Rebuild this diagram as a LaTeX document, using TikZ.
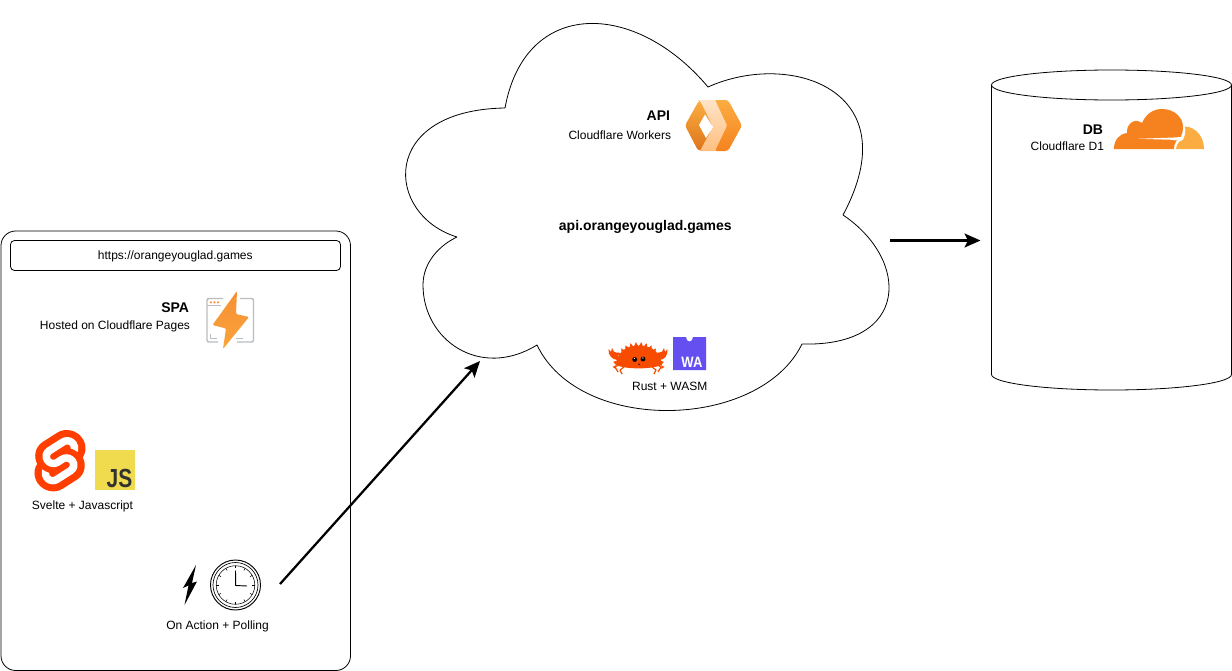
\documentclass[tikz,border=0pt]{standalone}
\usepackage{fontspec}
\setmainfont{Liberation Sans}
\usetikzlibrary{arrows.meta,svg.path}
\definecolor{svelteo}{HTML}{FF3E00}
\definecolor{jsy}{HTML}{F0DB4F}
\definecolor{jsd}{HTML}{323330}
\definecolor{cfd}{HTML}{F6821F}
\definecolor{cfl}{HTML}{FBAD41}
\definecolor{ferris}{HTML}{F74C00}
\definecolor{wasmc}{HTML}{654FF0}
\definecolor{pagesg}{HTML}{B9BDC1}
\tikzset{
  lbl/.style={font=\fontsize{9pt}{11pt}\selectfont,inner sep=0pt,text=black},
  lblb/.style={font=\fontsize{10.5pt}{12pt}\selectfont\bfseries,inner sep=0pt,text=black},
  thin1/.style={draw=black,line width=.6pt},
  flow/.style={draw=black,line width=1.7pt,-{Stealth[length=12pt,width=10.5pt,inset=2.6pt]}},
  tick/.style={draw=black,line width=.4pt},
}
\begin{document}
\begin{tikzpicture}[x=.75pt,y=-.75pt,line join=round]
\useasboundingbox (0,0) rectangle (1232,671);
\fill[white] (0,0) rectangle (1232,671);

% browser window
\draw[thin1,rounded corners=11pt] (1,231) rectangle (350.5,670.5);
\draw[thin1,rounded corners=3pt] (10.5,240.5) rectangle (340.5,270.5);
\node[lbl] (url) at (175.3,256) {https://orangeyouglad.games};
\node[lblb,anchor=east] (spa) at (189.3,308) {SPA};
\node[lbl,anchor=east] (pagesl) at (190.3,326) {Hosted on Cloudflare Pages};

% pages icon
\draw[pagesg,line width=1.1pt,rounded corners=1.5pt] (223,298.5) -- (207,298.5) -- (207,342) -- (218,342);
\draw[pagesg,line width=1.1pt,rounded corners=1.5pt] (240,298.5) -- (253.5,298.5) -- (253.5,342) -- (237,342);
\draw[pagesg,line width=.7pt] (207,305.5) -- (221,305.5);
\draw[pagesg,line width=.7pt] (210,334) -- (210,338.5) -- (217,338.5);
\draw[pagesg,line width=.7pt] (243,338.5) -- (236,338.5);
\fill[cfd!85!white] (211,302.3) circle (1.2) (214.5,302.3) circle (1.2) (218,302.3) circle (1.2);
\shade[top color=cfd!90!white,bottom color=cfl!80!cfd,rounded corners=.8pt] (237,291) -- (212.5,325) -- (226,328.5) -- (223,349) -- (249,317) -- (236,314) -- cycle;

% svelte
\fill[svelteo,shift={(34.5,430)},scale=.39,yscale=-1] svg {M91.8 15.6C80.9-.1 59.2-4.7 43.6 5.2L16.1 22.8C8.6 27.5 3.4 35.2 1.9 43.9c-1.3 7.3-.2 14.8 3.3 21.3-2.4 3.6-4 7.6-4.7 11.8-1.6 8.9.5 18.1 5.7 25.4 11 15.7 32.6 20.3 48.2 10.4l27.5-17.5c7.5-4.7 12.7-12.4 14.2-21.1 1.3-7.3.2-14.8-3.3-21.3 2.4-3.6 4-7.6 4.7-11.8 1.7-9-.4-18.2-5.7-25.5z};
\fill[white,shift={(34.5,430)},scale=.39,yscale=-1] svg {M40.9 103.9c-8.9 2.3-18.2-1.2-23.4-8.7-3.2-4.4-4.4-9.9-3.5-15.3.2-.9.4-1.7.6-2.6l.5-1.6 1.4 1c3.3 2.4 6.9 4.2 10.8 5.4l1 .3-.1 1c-.1 1.4.3 2.9 1.1 4.1 1.6 2.3 4.4 3.4 7.1 2.7.6-.2 1.2-.4 1.7-.7L65.5 72c1.4-.9 2.3-2.2 2.6-3.8.3-1.6-.1-3.3-1-4.6-1.6-2.3-4.4-3.3-7.1-2.6-.6.2-1.2.4-1.7.7l-10.5 6.7c-1.7 1.1-3.6 1.9-5.6 2.4-8.9 2.3-18.2-1.2-23.4-8.7-3.1-4.4-4.4-9.9-3.4-15.3.9-5.2 4.1-9.9 8.6-12.7l27.5-17.5c1.7-1.1 3.6-1.9 5.6-2.5 8.9-2.3 18.2 1.2 23.4 8.7 3.2 4.4 4.4 9.9 3.5 15.3-.2.9-.4 1.7-.7 2.6l-.5 1.6-1.4-1c-3.3-2.4-6.9-4.2-10.8-5.4l-1-.3.1-1c.1-1.4-.3-2.9-1.1-4.1-1.6-2.3-4.4-3.3-7.1-2.6-.6.2-1.2.4-1.7.7L32.4 46.1c-1.4.9-2.3 2.2-2.6 3.8s.1 3.3 1 4.6c1.6 2.3 4.4 3.3 7.1 2.6.6-.2 1.2-.4 1.7-.7l10.5-6.7c1.7-1.1 3.6-1.9 5.6-2.5 8.9-2.3 18.2 1.2 23.4 8.7 3.2 4.4 4.4 9.9 3.5 15.3-.9 5.2-4.1 9.9-8.6 12.7l-27.5 17.5c-1.7 1.1-3.6 1.9-5.6 2.5z};

% js
\fill[jsy] (95,450) rectangle (135,490);
\node[font=\fontsize{15.7pt}{16pt}\selectfont\bfseries,text=jsd,inner sep=0pt,anchor=base east] (js) at (132.5,487) {\scalebox{1}[1.25]{JS}};
\node[lbl] (sveltel) at (82.5,506) {Svelte + Javascript};

% lightning + clock
\fill[black] (196,565) -- (183,588) -- (188.5,585.5) -- (184.5,605) -- (197,581.5) -- (192,583) -- cycle;
\draw[black,line width=.7pt,fill=white] (235.5,585) circle (25);
\draw[black,line width=.5pt] (235.5,585) circle (22.5);
\draw[black,line width=.4pt] (235.5,585) circle (19.3);
\foreach \a in {0,30,...,330}{
  \draw[tick] (235.5,585) ++(\a:19.3) -- ++(\a+180:2.6);
}
\draw[black,line width=.7pt] (235.5,570.5) -- (235.7,585.5) -- (247,586);
\node[lbl] (polling) at (217.5,626) {On Action + Polling};

% cloud
\draw[thin1] (457,237) .. controls (385,215) and (378,110) .. (505,108)
  .. controls (525,-2) and (635,0) .. (708,87)
  .. controls (790,50) and (910,90) .. (843,215)
  .. controls (910,260) and (910,347) .. (802,344)
  .. controls (760,430) and (580,435) .. (537,345)
  .. controls (480,380) and (423,340) .. (423,285)
  .. controls (423,262) and (440,245) .. (457,237) -- cycle;
\node[lblb,anchor=east] (api) at (670.3,116) {API};
\node[lbl,anchor=east] (workers) at (671.3,135) {Cloudflare Workers};
\node[lblb] (domain) at (645.3,227) {api.orangeyouglad.games};
\node[lbl] (rustl) at (669.7,386) {Rust + WASM};

% workers icon
\shade[top color=cfl,bottom color=cfd!90!black,rounded corners=2pt] (699,100.5) -- (685,125.5) -- (698,150.5) -- (703,150.5) -- (713,125) -- (700,100.5) -- cycle;
\shade[top color=cfl,bottom color=cfd,rounded corners=2pt] (714,100) -- (728,100) -- (742,125.5) -- (728,151) -- (714,151) -- (727,125.5) -- cycle;
\shade[top color=orange!22!white,bottom color=orange!50!white,rounded corners=.5pt] (700,100) -- (715,100) -- (727,125.5) -- (715,151) -- (700,151) -- (713,127) -- cycle;
\fill[white] (699,125) -- (705,114.5) -- (713,127) -- (706,138) -- cycle;

% ferris
\foreach \a in {0,12,...,180}{
  \fill[ferris] ({638.5+23*cos(\a-5)},{367-21*sin(\a-5)}) -- ({638.5+26*cos(\a)},{367-25*sin(\a)}) -- ({638.5+23*cos(\a+5)},{367-21*sin(\a+5)}) -- cycle;
}
\fill[ferris] (615.5,365) .. controls (618,349) and (630,345.5) .. (638.5,345.5) .. controls (648,345.5) and (660,349) .. (662,365) .. controls (650,369.5) and (627,369.5) .. (615.5,365) -- cycle;
\fill[ferris] (618,360) .. controls (612,360) and (608,355) .. (608.5,349) -- (611,352) -- (612,348) .. controls (612,351) and (615,353) .. (618,353) -- cycle;
\fill[ferris] (659,360) .. controls (665,360) and (668,355) .. (667.5,349) -- (665,352) -- (664,348) .. controls (664,351) and (661,353) .. (658,353) -- cycle;
\draw[ferris,line width=.9pt] (620,364) -- (615,367) -- (618,372) (624,367) -- (620,370) -- (622,374);
\draw[ferris,line width=.9pt] (656,364) -- (661,367) -- (658,372) (652,367) -- (656,370) -- (654,374);
\fill[black] (634.7,359.5) circle (2.4) (643,359) circle (2.4);
\fill[white] (634.5,358.5) circle (.7) (642.8,358) circle (.7);
\fill[black] (637.8,363.8) -- (640.2,363.8) -- (639,365) -- cycle;

% wasm
\fill[wasmc] (673,337) -- (686,337) .. controls (686,343) and (693,343) .. (693,337) -- (706,337) -- (706,370) -- (673,370) -- cycle;
\node[font=\fontsize{9.8pt}{10pt}\selectfont\bfseries,text=white,inner sep=0pt,anchor=base east] (wa) at (702.8,367) {\scalebox{1}[1.15]{WA}};

% database
\draw[thin1] (991.5,85) -- (991.5,374.5) .. controls (991.5,383) and (1045,390) .. (1111.5,390) .. controls (1178,390) and (1231.5,383) .. (1231.5,374.5) -- (1231.5,85);
\draw[thin1] (1111.5,85) ellipse (120 and 15);
\node[lblb,anchor=east] (db) at (1103.3,130) {DB};
\node[lbl,anchor=east] (d1) at (1104.3,146) {Cloudflare D1};

% cloudflare logo
\fill[cfd] (1114,149) .. controls (1114,140) and (1119,134) .. (1127,133) .. controls (1126,125) and (1134,117) .. (1142,123) .. controls (1146,114) and (1153,109) .. (1162,109) .. controls (1175,109) and (1183,118) .. (1183,127) .. controls (1183,131) and (1182,135) .. (1180,138) .. controls (1176,140) and (1174,144) .. (1174,149) -- cycle;
\fill[white] (1138,138.8) -- (1172,137.6) -- (1181,137) -- (1183,139) -- (1176,140.5) -- (1172,139.8) -- cycle;
\fill[cfl] (1176,149) .. controls (1176.5,144) and (1179,141) .. (1183,140) .. controls (1185,136) and (1186,131) .. (1185,126.5) .. controls (1196,127) and (1204,137) .. (1204,149) -- cycle;

% connectors
\coordinate (a1) at (280,584);
\coordinate (a2) at (480,361);
\coordinate (b1) at (890,240.5);
\coordinate (b2) at (980.5,240.5);
\draw[flow] (a1) -- (a2);
\draw[flow] (b1) -- (b2);
\end{tikzpicture}
\end{document}
